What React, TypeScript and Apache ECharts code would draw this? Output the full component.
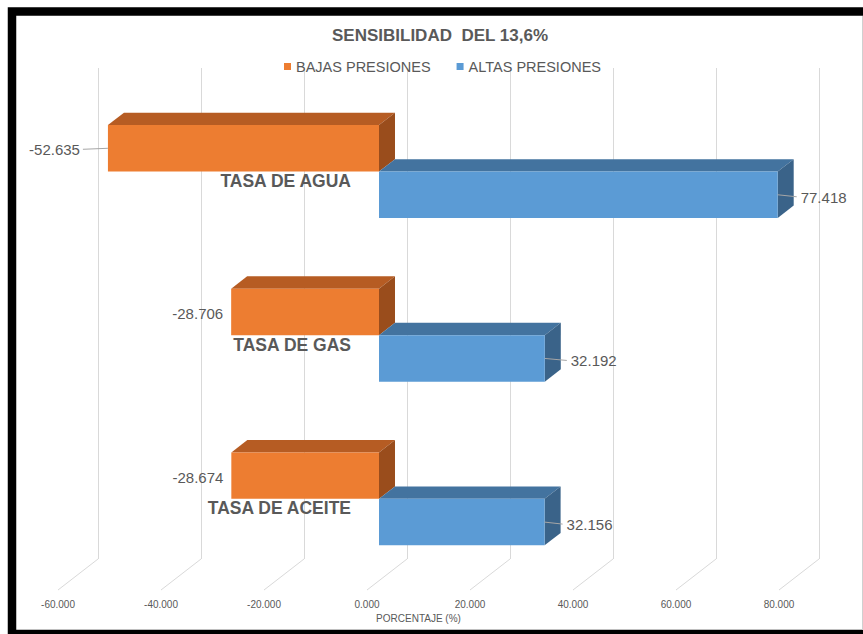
import React, { useEffect, useRef } from "react";
import * as echarts from "echarts";

// ---- data ----
const categories = ["TASA DE AGUA", "TASA DE GAS", "TASA DE ACEITE"];
const bajasPresiones = [-52.635, -28.706, -28.674];
const altasPresiones = [77.418, 32.192, 32.156];
const xTicks = [-60, -40, -20, 0, 20, 40, 60, 80];
const seriesNames = ["BAJAS PRESIONES", "ALTAS PRESIONES"];

// ---- styling constants (projection of the 3D look) ----
const FONT = "'Liberation Sans', Arial, sans-serif";
const TEXT_COLOR = "#595959";
const GRID_COLOR = "#d9d9d9";
const SLOPE = 0.775; // dy / dx of the depth direction
const BAR_FRONT = 28; // px the bar front face is shifted left from back wall
const BAR_BACK = 12; // px the bar back face is shifted left from back wall
const FLOOR_FRONT = 40; // px the floor front edge is shifted left from back wall
const BAR_FRAC = 0.284; // bar thickness as fraction of category band
const ORANGE = { front: "#ED7D31", top: "#B65C23", side: "#9A4D1C" };
const BLUE = { front: "#5B9BD5", top: "#43739F", side: "#3A6389" };
const ORANGE_LEADER = [25, 0, 0];
const BLUE_LEADER = [19, 22, 18];

function barRender(kind: "low" | "high", faces: any, leaders: number[]) {
  return (params: any, api: any) => {
    const cat = api.value(0);
    const val = api.value(1);
    const p0 = api.coord([0, cat]);
    const pv = api.coord([val, cat]);
    const band = api.size([0, 1])[1];
    const h = band * BAR_FRAC;
    const fx = -BAR_FRONT;
    const fy = BAR_FRONT * SLOPE;
    const bx = -BAR_BACK;
    const by = BAR_BACK * SLOPE;
    const yTop = kind === "low" ? p0[1] - h : p0[1];
    const yBot = yTop + h;
    const xl = Math.min(p0[0], pv[0]);
    const xr = Math.max(p0[0], pv[0]);
    const children: any[] = [
      {
        type: "polygon",
        shape: { points: [[xl + fx, yTop + fy], [xl + bx, yTop + by], [xr + bx, yTop + by], [xr + fx, yTop + fy]] },
        style: { fill: faces.top },
      },
      {
        type: "polygon",
        shape: { points: [[xr + fx, yTop + fy], [xr + bx, yTop + by], [xr + bx, yBot + by], [xr + fx, yBot + fy]] },
        style: { fill: faces.side },
      },
      {
        type: "polygon",
        shape: { points: [[xl + fx, yTop + fy], [xr + fx, yTop + fy], [xr + fx, yBot + fy], [xl + fx, yBot + fy]] },
        style: { fill: faces.front },
      },
    ];
    const cy = (yTop + yBot) / 2 + fy;
    const L = leaders[params.dataIndex] || 0;
    const txt = Number(val).toFixed(3);
    if (kind === "low") {
      const x0 = xl + fx;
      if (L > 0) {
        children.push({
          type: "line",
          shape: { x1: x0, y1: cy, x2: x0 - L, y2: cy + 1 },
          style: { stroke: "#a6a6a6", lineWidth: 1 },
        });
      }
      children.push({
        type: "text",
        style: {
          text: txt,
          x: x0 - L - (L > 0 ? 3 : 8),
          y: cy + 1.5,
          align: "right",
          verticalAlign: "middle",
          fill: TEXT_COLOR,
          fontSize: 15,
          fontFamily: FONT,
        },
      });
    } else {
      const x0 = xr + fx;
      children.push({
        type: "line",
        shape: { x1: x0, y1: cy, x2: x0 + L, y2: cy + 2 },
        style: { stroke: "#a6a6a6", lineWidth: 1 },
      });
      children.push({
        type: "text",
        style: {
          text: txt,
          x: x0 + L + 4,
          y: cy + 2.5,
          align: "left",
          verticalAlign: "middle",
          fill: TEXT_COLOR,
          fontSize: 15,
          fontFamily: FONT,
        },
      });
    }
    return { type: "group", children };
  };
}

function floorRender(params: any, api: any) {
  const p = api.coord([api.value(0), 0]);
  const bottom = params.coordSys.y + params.coordSys.height;
  return {
    type: "line",
    shape: { x1: p[0], y1: bottom, x2: p[0] - FLOOR_FRONT, y2: bottom + FLOOR_FRONT * SLOPE },
    style: { stroke: GRID_COLOR, lineWidth: 1 },
  };
}

export default function App() {
  const ref = useRef<HTMLDivElement>(null);
  useEffect(() => {
    if (!ref.current) return;
    const chart = echarts.init(ref.current, null, { renderer: "svg" });
    const option: any = {
      animation: false,
      backgroundColor: "#ffffff",
      title: {
        text: "SENSIBILIDAD  DEL 13,6%",
        left: 327,
        top: 22,
        textStyle: { color: TEXT_COLOR, fontSize: 17, fontWeight: "bold", fontFamily: FONT },
      },
      legend: {
        data: seriesNames,
        left: 279,
        top: 54,
        icon: "rect",
        itemWidth: 7,
        itemHeight: 7,
        itemGap: 26,
        textStyle: { color: TEXT_COLOR, fontSize: 14.5, fontFamily: FONT },
      },
      grid: [
        // back wall
        { left: 98, right: 44, top: 68, bottom: 75 },
        // floor front edge (tick labels)
        { left: 58, right: 84, top: 99, bottom: 44 },
        // category labels
        { left: 359, right: 20, top: 99, bottom: 44 },
      ],
      xAxis: [
        {
          gridIndex: 0,
          type: "value",
          min: -60,
          max: 80,
          interval: 20,
          axisLine: { show: false },
          axisTick: { show: false },
          axisLabel: { show: false },
          splitLine: { show: true, lineStyle: { color: GRID_COLOR, width: 1 } },
        },
        {
          gridIndex: 1,
          type: "value",
          min: -60,
          max: 80,
          interval: 20,
          axisLine: { show: false },
          axisTick: { show: false },
          splitLine: { show: false },
          axisLabel: {
            margin: 9,
            color: TEXT_COLOR,
            fontSize: 10,
            fontFamily: FONT,
            formatter: (v: number) => v.toFixed(3),
          },
          name: "PORCENTAJE (%)",
          nameLocation: "middle",
          nameGap: 23,
          nameTextStyle: { color: TEXT_COLOR, fontSize: 10, fontFamily: FONT },
        },
        {
          gridIndex: 2,
          type: "value",
          min: -60,
          max: 80,
          show: false,
        },
      ],
      yAxis: [
        { gridIndex: 0, type: "category", data: categories, inverse: true, show: false },
        { gridIndex: 1, type: "category", data: categories, inverse: true, show: false },
        {
          gridIndex: 2,
          type: "category",
          data: categories,
          inverse: true,
          axisLine: { show: false },
          axisTick: { show: false },
          splitLine: { show: false },
          axisLabel: {
            margin: 8,
            color: TEXT_COLOR,
            fontSize: 17.5,
            fontWeight: "bold",
            fontFamily: FONT,
          },
        },
      ],
      graphic: [
        {
          type: "rect",
          shape: { x: 12, y: 11.5, width: 900, height: 622.5 },
          style: { fill: "none", stroke: "#000000", lineWidth: 8.5 },
          z: 100,
        },
        {
          type: "line",
          shape: { x1: 862.5, y1: 16, x2: 862.5, y2: 630 },
          style: { stroke: "#d0d0d0", lineWidth: 1 },
          z: 100,
        },
      ],
      series: [
        {
          type: "custom",
          name: "floor",
          xAxisIndex: 0,
          yAxisIndex: 0,
          data: xTicks.map((v) => [v, 0]),
          encode: { x: 0, y: 1 },
          renderItem: floorRender,
          silent: true,
          z: 1,
        },
        {
          type: "custom",
          name: seriesNames[0],
          xAxisIndex: 0,
          yAxisIndex: 0,
          itemStyle: { color: ORANGE.front },
          data: categories.map((_, i) => [i, bajasPresiones[i]]),
          encode: { x: 1, y: 0 },
          renderItem: barRender("low", ORANGE, ORANGE_LEADER),
          z: 2,
        },
        {
          type: "custom",
          name: seriesNames[1],
          xAxisIndex: 0,
          yAxisIndex: 0,
          itemStyle: { color: BLUE.front },
          data: categories.map((_, i) => [i, altasPresiones[i]]),
          encode: { x: 1, y: 0 },
          renderItem: barRender("high", BLUE, BLUE_LEADER),
          z: 2,
        },
      ],
    };
    chart.setOption(option);
    return () => chart.dispose();
  }, []);
  return (
    <div
      ref={ref}
      style={{ position: "fixed", left: 0, top: 0, width: 863, height: 634, background: "#fff" }}
    />
  );
}
